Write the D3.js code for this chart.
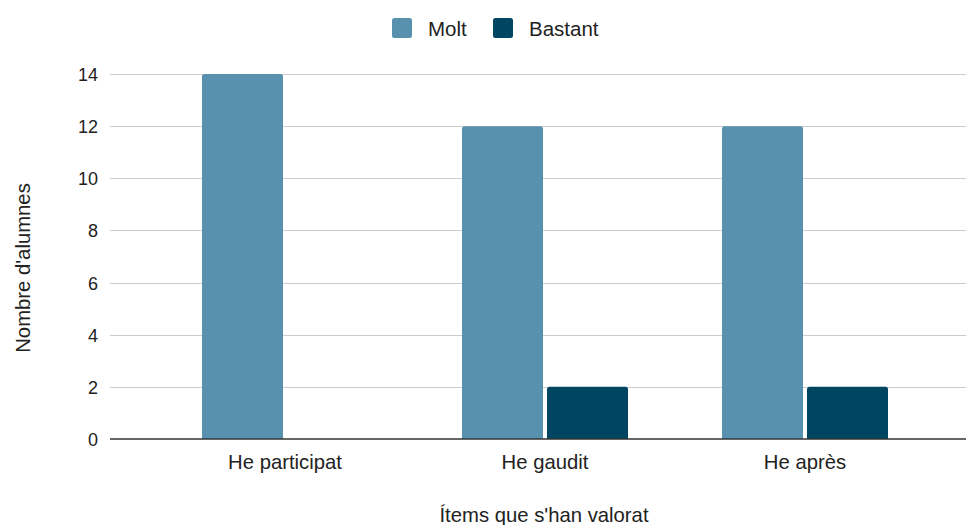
<!DOCTYPE html>
<html>
<head>
<meta charset="utf-8">
<script src="https://cdn.jsdelivr.net/npm/d3@7"></script>
<style>
  html, body { margin: 0; padding: 0; background: #fff; }
  svg { display: block; font-family: "Liberation Sans", Arial, sans-serif; }
</style>
</head>
<body>
<svg id="chart" width="967" height="525"></svg>
<script>
const categories = ["He participat", "He gaudit", "He après"];
const seriesNames = ["Molt", "Bastant"];
const molt = [14, 12, 12];
const bastant = [0, 2, 2];
const yTicks = [0, 2, 4, 6, 8, 10, 12, 14];
const colors = ["#5891ad", "#004561"];
const xTitle = "Ítems que s'han valorat";
const yTitle = "Nombre d'alumnes";

const values = [molt, bastant];
const svg = d3.select("#chart");
const FONT = '"Liberation Sans", Arial, sans-serif';

const plotLeft = 110, plotRight = 966, plotTop = 74, plotBottom = 439;

const y = d3.scaleLinear().domain([0, 14]).range([plotBottom, plotTop]);
const x0 = d3.scaleBand().domain(categories).range([155, 935]).padding(0);
const x1 = d3.scaleBand().domain(seriesNames)
  .range([47, 213]).paddingInner(4 / 85).paddingOuter(0);

// gridlines
svg.append("g").selectAll("line").data(yTicks.filter(d => d !== 0)).join("line")
  .attr("x1", plotLeft).attr("x2", plotRight)
  .attr("y1", d => Math.round(y(d)) + 0.5).attr("y2", d => Math.round(y(d)) + 0.5)
  .attr("stroke", "#cccccc").attr("stroke-width", 1);

// y axis tick labels
const yAxis = d3.axisLeft(y).tickValues(yTicks).tickSize(0).tickPadding(0);
const gy = svg.append("g").attr("transform", "translate(98,0)").call(yAxis);
gy.select(".domain").remove();
gy.selectAll("text").attr("font-size", "18px").attr("fill", "#222")
  .attr("font-family", FONT).attr("dy", "0.36em");

// bars
function barPath(xp, yTop, w, h, r) {
  if (h <= 0) return "";
  r = Math.min(r, h, w / 2);
  return `M${xp},${yTop + h}V${yTop + r}Q${xp},${yTop} ${xp + r},${yTop}H${xp + w - r}Q${xp + w},${yTop} ${xp + w},${yTop + r}V${yTop + h}Z`;
}
const barData = [];
categories.forEach((c, i) => {
  seriesNames.forEach((s, j) => {
    barData.push({ cat: c, series: s, value: values[j][i], color: colors[j] });
  });
});
svg.append("g").selectAll("path").data(barData).join("path")
  .attr("d", d => barPath(x0(d.cat) + x1(d.series), y(d.value), x1.bandwidth(), y(0) - y(d.value), 2.5))
  .attr("fill", d => d.color);

// baseline
svg.append("line").attr("x1", plotLeft).attr("x2", plotRight)
  .attr("y1", y(0)).attr("y2", y(0))
  .attr("stroke", "#333").attr("stroke-width", 1.5);

// x axis labels
const xAxis = d3.axisBottom(x0).tickSize(0).tickPadding(0);
const gx = svg.append("g").call(xAxis);
gx.select(".domain").remove();
gx.selectAll("text").attr("font-size", "20.3px").attr("fill", "#222")
  .attr("font-family", FONT).attr("y", 469).attr("dy", 0);

// axis titles
svg.append("text").attr("x", 544).attr("y", 522).attr("text-anchor", "middle")
  .attr("font-size", "20.3px").attr("fill", "#222").text(xTitle);
svg.append("text").attr("transform", "translate(30,268) rotate(-90)")
  .attr("text-anchor", "middle").attr("font-size", "20.3px").attr("fill", "#222").text(yTitle);

// legend
const legendPos = [{ sx: 392, tx: 428 }, { sx: 493, tx: 529 }];
const lg = svg.append("g");
seriesNames.forEach((s, j) => {
  lg.append("rect").attr("x", legendPos[j].sx).attr("y", 18).attr("width", 20).attr("height", 20)
    .attr("rx", 2.5).attr("fill", colors[j]);
  lg.append("text").attr("x", legendPos[j].tx).attr("y", 36)
    .attr("font-size", "20.5px").attr("fill", "#222").text(s);
});
</script>
</body>
</html>
